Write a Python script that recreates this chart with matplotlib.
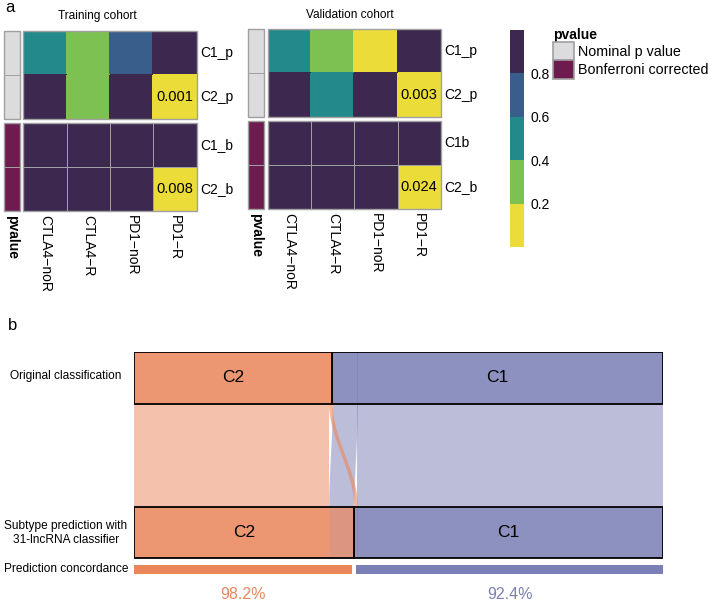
import matplotlib
matplotlib.use('Agg')
import matplotlib.pyplot as plt
import numpy as np
from matplotlib.colors import ListedColormap, BoundaryNorm
from matplotlib.cm import ScalarMappable
from matplotlib.patches import Rectangle, Patch

# ---- data ----
cols = ['CTLA4\u2212noR', 'CTLA4\u2212R', 'PD1\u2212noR', 'PD1\u2212R']
train_rows = ['C1_p', 'C2_p', 'C1_b', 'C2_b']
valid_rows = ['C1_p', 'C2_p', 'C1b', 'C2_b']
train_p = [[0.5, 0.3, 0.7, 0.9], [0.9, 0.3, 0.9, 0.001]]
train_b = [[1.0, 1.0, 1.0, 1.0], [1.0, 1.0, 1.0, 0.008]]
valid_p = [[0.5, 0.3, 0.1, 0.9], [0.9, 0.5, 0.9, 0.003]]
valid_b = [[1.0, 1.0, 1.0, 1.0], [1.0, 1.0, 1.0, 0.024]]
bins = [0, 0.2, 0.4, 0.6, 0.8, 1.0]
bin_colors = ['#EBDC3A', '#7CC152', '#24898A', '#3A5E8C', '#3D2950']
ann_labels = ['Nominal p value', 'Bonferroni corrected']
ann_colors = ['#DCDCDE', '#6E1B50']

# subtype switching (original -> predicted)
classes = ['C2', 'C1']
flows = [('C2', 'C2', 216), ('C2', 'C1', 4), ('C1', 'C2', 28), ('C1', 'C1', 339)]
class_colors = {'C2': '#EB855A', 'C1': '#7A7FB5'}
pct_colors = {'C2': '#E8875E', 'C1': '#7B7FB5'}

plt.rcParams['font.family'] = ['Liberation Sans', 'DejaVu Sans']

W, H = 708, 603
fig = plt.figure(figsize=(W / 100, H / 100), dpi=100)

def add_ax(x0, y0, x1, y1):
    return fig.add_axes([x0 / W, 1 - y1 / H, (x1 - x0) / W, (y1 - y0) / H])

cmap = ListedColormap(bin_colors)
norm = BoundaryNorm(bins, cmap.N)
grid = '#A0A0A0'
gap = 0.1

def heatmap(ax_ann, ax, pv, bv, rows):
    for k, (vals, ann) in enumerate([(np.array(pv), ann_colors[0]), (np.array(bv), ann_colors[1])]):
        y0 = k * (2 + gap)
        ye = y0 + np.arange(3)
        if k == 0:
            ax.pcolormesh(np.arange(5), ye, vals, cmap=cmap, norm=norm, edgecolors='face', linewidth=0.3)
        else:
            ax.pcolormesh(np.arange(5), ye, vals, cmap=cmap, norm=norm, edgecolors=grid, linewidth=0.6)
        ax.add_patch(Rectangle((0, y0), 4, 2, fill=False, ec=grid, lw=1.0, clip_on=False))
        for i in range(2):
            for j in range(4):
                if vals[i, j] < 0.05:
                    ax.text(j + 0.5, y0 + i + 0.5, f'{vals[i, j]:.3f}', ha='center', va='center', fontsize=10.5)
            ax.text(4.08, y0 + i + 0.5, rows[2 * k + i], ha='left', va='center', fontsize=10, clip_on=False)
        ax_ann.pcolormesh([0, 1], ye, np.zeros((2, 1)), cmap=ListedColormap([ann]), edgecolors=grid, linewidth=0.6)
        ax_ann.add_patch(Rectangle((0, y0), 1, 2, fill=False, ec=grid, lw=1.0, clip_on=False))
    for a in (ax, ax_ann):
        a.set_ylim(4 + gap, 0)
        a.set_yticks([])
        a.tick_params(length=0, pad=3)
        for s in a.spines.values():
            s.set_visible(False)
    ax.set_xlim(0, 4)
    ax.set_xticks(np.arange(4) + 0.5, cols, rotation=-90, fontsize=10)
    ax_ann.set_xlim(0, 1)
    ax_ann.set_xticks([0.5], ['pvalue'], rotation=-90, fontsize=10, fontweight='bold')

heatmap(add_ax(4, 30.7, 20, 210.7), add_ax(23.3, 30.7, 196.7, 210.7), train_p, train_b, train_rows)
heatmap(add_ax(248, 29, 264, 209), add_ax(268, 29, 440.7, 209), valid_p, valid_b, valid_rows)
fig.text(97 / W, 1 - 15.5 / H, 'Training cohort', ha='center', va='center', fontsize=8.6)
fig.text(350 / W, 1 - 15.5 / H, 'Validation cohort', ha='center', va='center', fontsize=8.6)
fig.text(5 / W, 1 - 0.5 / H, 'a', ha='left', va='top', fontsize=12)

cax = add_ax(510, 30, 524, 247)
cb = fig.colorbar(ScalarMappable(norm=norm, cmap=cmap), cax=cax, ticks=[0.2, 0.4, 0.6, 0.8])
cb.outline.set_visible(False)
cb.ax.set_yticklabels(['0.2', '0.4', '0.6', '0.8'])
cax.minorticks_off()
cax.tick_params(which='both', length=0, labelsize=10, pad=5)

handles = [Patch(facecolor=c, edgecolor=grid, linewidth=1.2, label=l) for c, l in zip(ann_colors, ann_labels)]
fig.legend(handles=handles, title='pvalue', title_fontproperties={'weight': 'bold', 'size': 10},
           loc='upper left', bbox_to_anchor=(553 / W, 1 - 28 / H), frameon=False, fontsize=10.3,
           handlelength=1.45, handleheight=1.6, handletextpad=0.3, labelspacing=0.0,
           borderpad=0, borderaxespad=0, alignment='left')

# ---- panel b: alluvial ----
fig.text(8 / W, 1 - 326 / H, 'b', ha='left', va='center', fontsize=12)
unit = 51.5
ax = add_ax(134, 352, 663, 603)
ax.set_xlim(0, 1)
ax.set_ylim(251 / unit, 0)
ax.axis('off')

total = sum(f[2] for f in flows)
orig = {c: sum(f[2] for f in flows if f[0] == c) for c in classes}
pred = {c: sum(f[2] for f in flows if f[1] == c) for c in classes}
orig_x, pred_x = {}, {}
x = 0
for c in classes:
    orig_x[c] = x
    x += orig[c] / total
x = 0
for c in classes:
    pred_x[c] = x
    x += pred[c] / total

# flows stacked in class order at both ends
top_pos = dict(orig_x)
bot_pos = dict(pred_x)
yy = np.linspace(0, 4, 300)
t = np.clip((yy - 1) / 2, 0, 1)
s = t * t * (3 - 2 * t)
for src, dst, n in sorted(flows, key=lambda f: classes.index(f[0])):
    w = n / total
    xt = top_pos[src]
    xb = bot_pos[dst]
    left = xt + (xb - xt) * s
    z = 1.5 if (src != dst and src == classes[0]) else 1
    ax.fill_betweenx(yy, left, left + w, color=class_colors[src], alpha=0.5 if z == 1 else 0.6,
                     lw=0, zorder=z)
    top_pos[src] += w
    bot_pos[dst] += w

for c in classes:
    for y0, xs, cnt in [(0, orig_x[c], orig[c]), (3, pred_x[c], pred[c])]:
        w = cnt / total
        ax.add_patch(Rectangle((xs, y0), w, 1, facecolor=class_colors[c], alpha=0.7, lw=0, zorder=2))
        ax.add_patch(Rectangle((xs, y0), w, 1, fill=False, ec='black', lw=1.3, zorder=3))
        ax.text(xs + w / 2, y0 + 0.5, c, ha='center', va='center', fontsize=12.5, zorder=4)

g = 0.004
conc = {c: next(f[2] for f in flows if f[0] == c and f[1] == c) / orig[c] for c in classes}
for c in classes:
    x0 = pred_x[c] + (g if c == 'C1' else 0)
    x1 = pred_x[c] + pred[c] / total - (g if c == 'C2' else 0)
    ax.add_patch(Rectangle((x0, 4.14), x1 - x0, 0.17, facecolor=class_colors[c], lw=0))
    ax.text((x0 + x1) / 2, 4.7, f'{conc[c] * 100:.1f}%', ha='center', va='center',
            fontsize=11.5, color=pct_colors[c])

lx = (66 - 134) / 529
lab = dict(ha='center', va='center', fontsize=8.6, clip_on=False)
ax.text(lx, 0.47, 'Original classification', **lab)
ax.text(lx, 3.52, 'Subtype prediction with\n31-lncRNA classifier', linespacing=1.25, **lab)
ax.text(lx, 4.22, 'Prediction concordance', **lab)

plt.savefig('out.png', dpi=100)
